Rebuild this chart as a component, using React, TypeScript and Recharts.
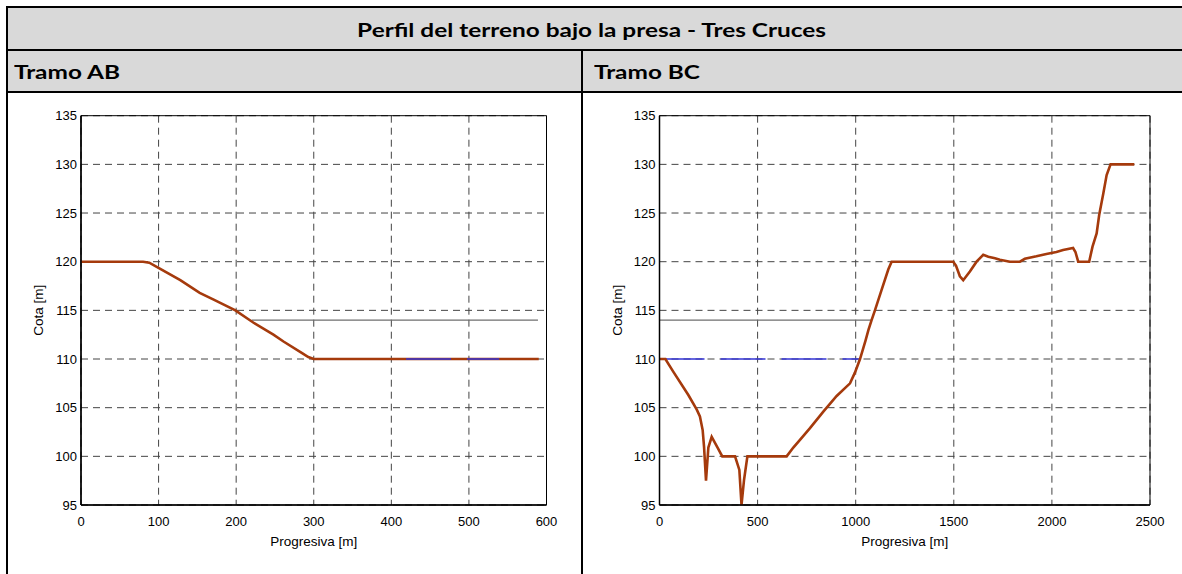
import React from 'react';
import { LineChart, Line, XAxis, YAxis, CartesianGrid, ReferenceArea, Label } from 'recharts';

// ---- Tramo AB ----
const abProgresiva = [0, 80, 88, 97, 128, 153, 171, 199, 222, 248, 261, 285, 293, 300, 590];
const abCota = [120, 120, 119.9, 119.5, 118.1, 116.8, 116.1, 115.0, 113.75, 112.5, 111.8, 110.6, 110.2, 110, 110];
const abNivel114X = [220, 589];
const abNivel114Y = [114, 114];
const abAguaX = [419, 539];
const abAguaY = [110, 110];
const abTicksX = [0, 100, 200, 300, 400, 500, 600];

// ---- Tramo BC ----
const bcProgresiva = [
  0, 30, 70, 147, 190, 206, 220, 227, 237, 249, 266, 296, 320, 385, 407, 418, 431, 448, 648, 682,
  716, 767, 835, 903, 971, 996, 1022, 1050, 1065, 1081, 1098, 1132, 1166, 1183, 1497, 1511, 1531,
  1548, 1582, 1616, 1650, 1676, 1710, 1735, 1786, 1837, 1862, 1921, 1972, 2023, 2057, 2108, 2120,
  2134, 2190, 2207, 2228, 2241, 2262, 2279, 2299, 2420,
];
const bcCota = [
  110, 110, 108.7, 106.3, 104.8, 104.1, 102.7, 101.0, 97.5, 100.9, 102.0, 100.9, 100, 100, 98.6, 95,
  97.6, 100, 100, 100.9, 101.7, 102.9, 104.6, 106.2, 107.5, 108.6, 110, 111.9, 113.0, 114.0, 115.0,
  117.1, 119.2, 120, 120, 119.6, 118.5, 118.1, 119.0, 120.0, 120.7, 120.5, 120.35, 120.2, 120, 120,
  120.3, 120.55, 120.8, 121.0, 121.2, 121.4, 121.0, 120, 120, 121.55, 122.9, 124.8, 127.0, 128.9, 130,
  130,
];
const bcNivel114X = [0, 1081];
const bcNivel114Y = [114, 114];
const bcAguaX = [0, 1022];
const bcAguaY = [110, 110];
const bcTicksX = [0, 500, 1000, 1500, 2000, 2500];

const cotaTicks = [95, 100, 105, 110, 115, 120, 125, 130, 135];

const toPoints = (xs: number[], ys: number[]) => xs.map((x, i) => ({ x, y: ys[i] }));

const AXIS_FONT = "'Liberation Sans', Arial, sans-serif";
const HEAD_FONT = "Lato, 'Open Sans', sans-serif";

const BROWN = '#a53a0c';
const BLUE = '#3434d6';
const GRAY = '#6e6e6e';

const XTitle = (props: any) => {
  const vb = props.viewBox || {};
  return (
    <text
      x={vb.x + vb.width / 2}
      y={vb.y + 36}
      textAnchor="middle"
      dominantBaseline="central"
      fontSize={13.5}
      fontFamily={AXIS_FONT}
      fill="#000"
    >
      Progresiva [m]
    </text>
  );
};

const YTitle = (props: any) => {
  const vb = props.viewBox || {};
  const cx = vb.x + vb.width - 42;
  const cy = vb.y + vb.height / 2;
  return (
    <text
      x={cx}
      y={cy}
      transform={`rotate(-90, ${cx}, ${cy})`}
      textAnchor="middle"
      dominantBaseline="central"
      fontSize={13.5}
      fontFamily={AXIS_FONT}
      fill="#000"
    >
      Cota [m]
    </text>
  );
};

type ProfileProps = {
  left: number;
  width: number;
  marginLeft: number;
  marginRight: number;
  xMax: number;
  xTicks: number[];
  terrain: { x: number; y: number }[];
  nivel114: { x: number; y: number }[];
  agua: { x: number; y: number }[];
  aguaOnTop: boolean;
};

const Profile = (p: ProfileProps) => {
  const tick = { fill: '#000', fontSize: 13, fontFamily: AXIS_FONT };
  const aguaLine = (
    <Line
      data={p.agua}
      dataKey="y"
      type="linear"
      stroke={BLUE}
      strokeWidth={1.4}
      strokeDasharray="45 16"
      dot={false}
      activeDot={false}
      isAnimationActive={false}
    />
  );
  return (
    <div style={{ position: 'absolute', left: p.left, top: 93 }}>
      <LineChart
        width={p.width}
        height={481}
        margin={{ top: 22.7, right: p.marginRight, bottom: 29, left: p.marginLeft }}
      >
        <CartesianGrid strokeDasharray="7 5" stroke="#444" strokeWidth={1} />
        <XAxis
          type="number"
          dataKey="x"
          domain={[0, p.xMax]}
          ticks={p.xTicks}
          interval={0}
          allowDataOverflow
          tickLine={false}
          tickSize={0}
          tickMargin={12}
          height={40}
          axisLine={{ stroke: '#000', strokeWidth: 1.5 }}
          tick={tick}
        >
          <Label content={XTitle} />
        </XAxis>
        <YAxis
          type="number"
          domain={[95, 135]}
          ticks={cotaTicks}
          interval={0}
          allowDataOverflow
          tickLine={false}
          tickSize={0}
          tickMargin={4}
          width={60}
          axisLine={{ stroke: '#000', strokeWidth: 1.5 }}
          tick={tick}
        >
          <Label content={YTitle} />
        </YAxis>
        <ReferenceArea
          x1={0}
          x2={p.xMax}
          y1={95}
          y2={135}
          fill="none"
          fillOpacity={0}
          stroke="#000"
          strokeWidth={1}
        />
        <Line
          data={p.nivel114}
          dataKey="y"
          type="linear"
          stroke={GRAY}
          strokeWidth={1.3}
          dot={false}
          activeDot={false}
          isAnimationActive={false}
        />
        {!p.aguaOnTop && aguaLine}
        <Line
          data={p.terrain}
          dataKey="y"
          type="linear"
          stroke={BROWN}
          strokeWidth={2.6}
          dot={false}
          activeDot={false}
          isAnimationActive={false}
        />
        {p.aguaOnTop && aguaLine}
      </LineChart>
    </div>
  );
};

const line = (style: React.CSSProperties) => (
  <div style={{ position: 'absolute', background: '#000', ...style }} />
);

const headText: React.CSSProperties = {
  fontFamily: HEAD_FONT,
  fontWeight: 700,
  fontSize: 19.5,
  color: '#000',
  whiteSpace: 'nowrap',
};

export default function App() {
  return (
    <div
      style={{
        position: 'absolute',
        left: 0,
        top: 0,
        width: 1182,
        height: 574,
        overflow: 'hidden',
        background: '#fff',
      }}
    >
      {/* header backgrounds */}
      <div style={{ position: 'absolute', left: 8, top: 8, width: 1174, height: 41, background: '#d9d9d9' }} />
      <div style={{ position: 'absolute', left: 8, top: 51, width: 1174, height: 40, background: '#d9d9d9' }} />
      {/* table lines */}
      {line({ left: 6, top: 6, width: 1176, height: 2 })}
      {line({ left: 6, top: 6, width: 2, height: 568 })}
      {line({ left: 6, top: 49, width: 1176, height: 2 })}
      {line({ left: 6, top: 91, width: 1176, height: 2 })}
      {line({ left: 581, top: 49, width: 2, height: 525 })}
      {/* texts */}
      <div
        style={{
          position: 'absolute',
          left: 8,
          top: 9,
          width: 1168,
          height: 41,
          display: 'flex',
          alignItems: 'center',
          justifyContent: 'center',
        }}
      >
        <span style={{ ...headText, display: 'inline-block', transform: 'scaleX(1.25)', transformOrigin: 'center' }}>
          Perfil del terreno bajo la presa - Tres Cruces
        </span>
      </div>
      <div
        style={{
          position: 'absolute',
          left: 14,
          top: 51,
          height: 40,
          display: 'flex',
          alignItems: 'center',
        }}
      >
        <span style={{ ...headText, display: 'inline-block', transform: 'scaleX(1.25)', transformOrigin: 'left center' }}>
          Tramo AB
        </span>
      </div>
      <div
        style={{
          position: 'absolute',
          left: 594,
          top: 51,
          height: 40,
          display: 'flex',
          alignItems: 'center',
        }}
      >
        <span style={{ ...headText, display: 'inline-block', transform: 'scaleX(1.25)', transformOrigin: 'left center' }}>
          Tramo BC
        </span>
      </div>

      <Profile
        left={0}
        width={582}
        marginLeft={21}
        marginRight={35.5}
        xMax={600}
        xTicks={abTicksX}
        terrain={toPoints(abProgresiva, abCota)}
        nivel114={toPoints(abNivel114X, abNivel114Y)}
        agua={toPoints(abAguaX, abAguaY)}
        aguaOnTop
      />
      <Profile
        left={582}
        width={600}
        marginLeft={17.5}
        marginRight={32}
        xMax={2500}
        xTicks={bcTicksX}
        terrain={toPoints(bcProgresiva, bcCota)}
        nivel114={toPoints(bcNivel114X, bcNivel114Y)}
        agua={toPoints(bcAguaX, bcAguaY)}
        aguaOnTop={false}
      />
    </div>
  );
}
